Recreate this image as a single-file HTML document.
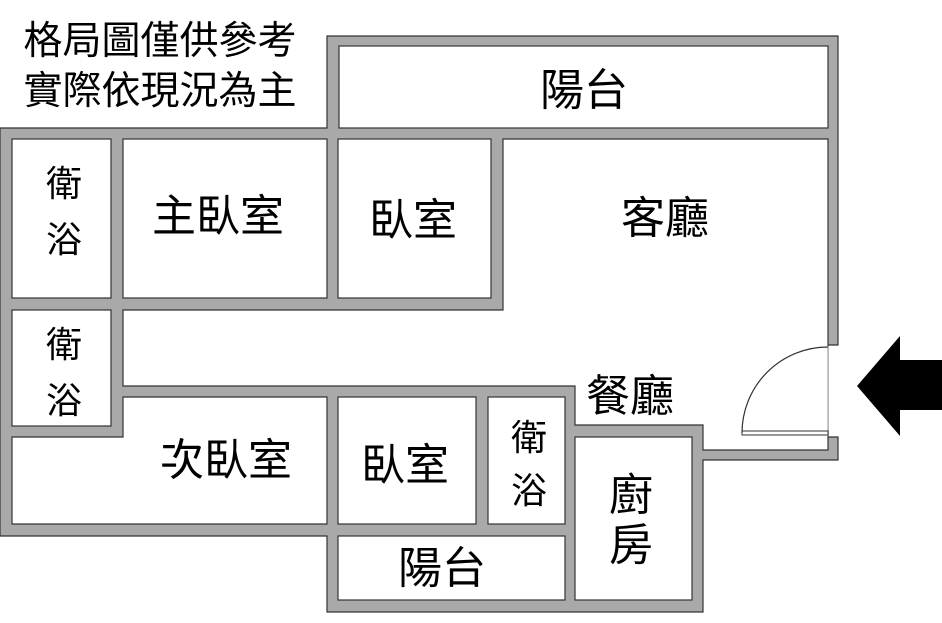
<!DOCTYPE html>
<html><head><meta charset="utf-8"><style>
html,body{margin:0;padding:0;background:#fff;}
svg{display:block;}
text{font-family:"Liberation Sans","Noto Sans CJK TC",sans-serif;fill:#000;}
</style></head><body>
<svg width="942" height="623" viewBox="0 0 942 623" xmlns="http://www.w3.org/2000/svg">
<g stroke="#333" stroke-width="1.2">
<polygon fill="#a9a9a9" points="327,36 838,36 838,345 828,345 828,437 838,437 838,460 703,460 703,612 327,612 327,536 0,536 0,128 327,128"/>
<g fill="#fff">
<rect x="339" y="46" width="489" height="82"/>
<rect x="12" y="139" width="99" height="159"/>
<rect x="123" y="139" width="204" height="159"/>
<rect x="338" y="139" width="153" height="159"/>
<polygon points="503,139 828,139 828,450 703,450 703,425 575,425 575,386 123,386 123,310 503,310"/>
<rect x="12" y="310" width="99" height="116"/>
<polygon points="123,397 327,397 327,524 12,524 12,437 123,437"/>
<rect x="338" y="397" width="138" height="127"/>
<rect x="488" y="397" width="77" height="127"/>
<rect x="338" y="536" width="227" height="64"/>
<rect x="575" y="437" width="117" height="163"/>
</g>
</g>
<rect x="829" y="346" width="12" height="90" fill="#fff"/>
<line x1="828" y1="346" x2="828" y2="436" stroke="#bbb" stroke-width="1"/>
<rect x="742" y="431" width="86" height="4" fill="#fff" stroke="#333" stroke-width="1"/>
<path d="M742,433 A86,86 0 0 1 828,347" fill="none" stroke="#333" stroke-width="1.2"/>
<polygon points="857,386 900,336 900,360 942,360 942,410 900,410 900,436" fill="#000"/>
<g font-size="39">
<text x="160" y="54" text-anchor="middle">格局圖僅供參考</text>
<text x="160" y="104" text-anchor="middle">實際依現況為主</text>
</g>
<g font-size="44" text-anchor="middle">
<text x="584" y="105">陽台</text>
<text x="218" y="231">主臥室</text>
<text x="413" y="235">臥室</text>
<text x="665" y="233">客廳</text>
<text x="226" y="475">次臥室</text>
<text x="405" y="480">臥室</text>
<text x="442" y="583">陽台</text>
<text x="631" y="510">廚</text>
<text x="631" y="560">房</text>
<text x="630" y="411">餐廳</text>
</g>
<g font-size="36" text-anchor="middle">
<text x="64" y="196">衛</text>
<text x="64" y="252">浴</text>
<text x="64" y="357">衛</text>
<text x="64" y="413">浴</text>
<text x="529" y="450">衛</text>
<text x="529" y="503">浴</text>
</g>
</svg>
</body></html>
